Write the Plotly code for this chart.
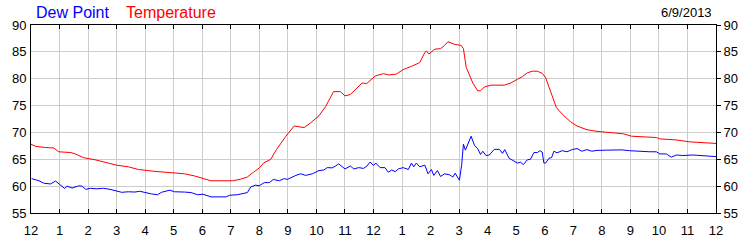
import plotly.graph_objects as go

# Hour ticks (midnight to midnight)
tick_hours = list(range(0, 25))
tick_labels = ["12", "1", "2", "3", "4", "5", "6", "7", "8", "9", "10", "11",
               "12", "1", "2", "3", "4", "5", "6", "7", "8", "9", "10", "11", "12"]

y_ticks = [55, 60, 65, 70, 75, 80, 85, 90]

date_label = "6/9/2013"
series_names = ["Dew Point", "Temperature"]

temp_hours = [0, 0.17, 0.5, 0.8, 0.97, 1.4, 1.55, 1.84, 2.25, 2.6, 3.0, 3.41, 3.76,
              4.34, 4.8, 5.38, 5.73, 6.07, 6.3, 6.7, 7.06, 7.35, 7.58, 7.8, 8.0,
              8.15, 8.4, 8.6, 8.93, 9.22, 9.4, 9.57, 9.8, 10.09, 10.32, 10.6, 10.84,
              11.0, 11.19, 11.6, 11.76, 12.06, 12.35, 12.52, 12.8, 13.04, 13.33,
              13.62, 13.8, 13.85, 13.94, 14.15, 14.35, 14.49, 14.61, 14.73, 14.84,
              15.07, 15.15, 15.25, 15.36, 15.48, 15.65, 15.75, 15.88, 16.11, 16.58,
              16.81, 17.04, 17.22, 17.39, 17.57, 17.74, 17.91, 18.03, 18.2, 18.41,
              18.67, 18.78, 18.9, 19.13, 19.48, 19.83, 20.17, 20.75, 21.04, 21.91,
              22.03, 22.61, 23.07, 23.54, 24.0]
temp_values = [67.8, 67.4, 67.2, 67.1, 66.4, 66.25, 66.0, 65.3, 64.9, 64.45, 63.9, 63.6, 63.1,
               62.75, 62.5, 62.3, 61.9, 61.3, 61.0, 61.0, 61.0, 61.3, 61.7, 62.6, 63.4,
               64.3, 65.0, 66.8, 69.3, 71.2, 71.0, 70.9, 71.8, 73.1, 74.8, 77.6, 77.6,
               76.8, 77.05, 79.2, 79.1, 80.5, 80.95, 80.7, 80.85, 81.7, 82.3,
               83.0, 84.9, 85.15, 84.6, 85.5, 85.6, 86.2, 86.9, 86.6, 86.4,
               86.2, 85.6, 82.1, 80.7, 79.2, 77.75, 77.75, 78.45, 78.8, 78.8,
               79.2, 79.9, 80.4, 81.1, 81.4, 81.4, 81.0, 80.2, 77.75, 74.6,
               73.1, 72.5, 72.0, 71.2, 70.5, 70.2, 70.0, 69.75, 69.3, 69.05,
               68.8, 68.6, 68.25, 68.1, 67.95]

dew_hours = [0.02, 0.28, 0.45, 0.68, 0.86, 1.03, 1.18, 1.26, 1.44, 1.67, 1.79, 1.92, 2.08,
             2.31, 2.54, 2.77, 3.0, 3.18, 3.41, 3.64, 3.81, 3.99, 4.22, 4.43, 4.57, 4.86,
             5.03, 5.38, 5.61, 5.84, 6.02, 6.31, 6.83, 6.95, 7.23, 7.58, 7.7, 7.87, 7.99,
             8.17, 8.35, 8.49, 8.7, 8.87, 8.98, 9.28, 9.45, 9.62, 9.86, 10.09, 10.26,
             10.38, 10.55, 10.67, 10.78, 11.0, 11.19, 11.31, 11.48, 11.65, 11.77, 11.88,
             12.0, 12.08, 12.23, 12.4, 12.52, 12.64, 12.76, 12.87, 13.04, 13.22, 13.33,
             13.41, 13.5, 13.62, 13.8, 13.91, 14.03, 14.11, 14.24, 14.35, 14.49, 14.67,
             14.78, 14.86, 15.01, 15.09, 15.15, 15.22, 15.3, 15.42, 15.54, 15.65, 15.75,
             15.83, 15.94, 16.06, 16.23, 16.41, 16.52, 16.6, 16.75, 16.93, 17.04, 17.16,
             17.25, 17.39, 17.5, 17.62, 17.74, 17.83, 17.91, 17.97, 18.03, 18.15, 18.24,
             18.32, 18.43, 18.61, 18.78, 18.96, 19.13, 19.3, 19.48, 19.65, 19.83, 20.17,
             20.41, 20.7, 20.97, 21.2, 21.39, 21.68, 21.91, 22.03, 22.26, 22.43, 22.61,
             22.84, 23.19, 23.54, 24.0]
dew_values = [61.4, 61.0, 60.55, 60.4, 60.95, 60.25, 59.55, 60.0, 59.65, 60.05, 60.0, 59.4, 59.6,
              59.5, 59.6, 59.4, 59.1, 58.85, 58.95, 58.9, 59.05, 58.8, 58.55, 58.4, 58.85, 59.25,
              58.95, 58.9, 58.8, 58.4, 58.5, 58.0, 58.0, 58.3, 58.4, 58.8, 59.85, 60.2, 60.05,
              60.65, 60.65, 61.25, 61.0, 61.4, 61.25, 62.0, 62.3, 62.0, 62.3, 62.9, 63.0,
              63.45, 63.4, 63.75, 64.15, 63.2, 63.75, 63.2, 63.45, 63.3, 63.75, 64.5,
              63.85, 64.3, 63.45, 63.45, 62.6, 63.0, 62.7, 63.2, 63.45, 63.1, 64.3,
              63.6, 64.3, 63.6, 63.9, 62.3, 63.1, 62.0, 62.9, 61.8, 62.3, 62.1,
              61.7, 62.4, 61.1, 64.0, 67.8, 66.7, 67.8, 69.3, 67.55, 67.0, 65.9,
              66.5, 65.7, 65.8, 66.85, 66.85, 66.1, 66.8, 65.2, 64.6, 64.3, 64.45,
              64.0, 64.9, 65.0, 66.25, 66.25, 66.6, 66.35, 64.3, 64.3, 65.2, 65.3,
              66.5, 66.2, 66.6, 66.4, 66.8, 67.0, 66.5, 66.8, 66.5, 66.65, 66.7,
              66.75, 66.75, 66.6, 66.5, 66.4, 66.4, 66.4, 66.0, 66.0, 65.4, 65.8,
              65.7, 65.8, 65.7, 65.5]

BLUE = "#0000ff"
RED = "#ff0000"
FONT = "Liberation Sans, Arial, sans-serif"

fig = go.Figure()
fig.add_trace(go.Scatter(x=temp_hours, y=temp_values, mode="lines", name=series_names[1],
                         line=dict(color=RED, width=1)))
fig.add_trace(go.Scatter(x=dew_hours, y=dew_values, mode="lines", name=series_names[0],
                         line=dict(color=BLUE, width=1)))
# invisible trace to activate the right axis
fig.add_trace(go.Scatter(x=[0], y=[55], yaxis="y2", mode="lines", showlegend=False,
                         hoverinfo="skip", line=dict(width=0)))

fig.update_layout(
    width=750, height=250,
    margin=dict(l=30, r=30, t=25, b=25),
    paper_bgcolor="white", plot_bgcolor="white",
    showlegend=False,
    font=dict(family=FONT, size=13, color="#000000"),
    xaxis=dict(range=[0, 24], tickvals=tick_hours, ticktext=tick_labels,
               showgrid=True, gridcolor="#cccccc", gridwidth=1,
               showline=True, linecolor="#000000", linewidth=1, mirror="ticks",
               ticks="inside", ticklen=4, tickcolor="#000000", zeroline=False,
               ticklabelstandoff=5, tickfont=dict(size=13)),
    yaxis=dict(range=[55, 90], tickvals=y_ticks, showgrid=True, gridcolor="#cccccc",
               gridwidth=1, showline=True, linecolor="#000000", linewidth=1,
               ticks="", zeroline=False, ticklabelstandoff=1, tickfont=dict(size=13)),
    yaxis2=dict(range=[55, 90], tickvals=y_ticks, overlaying="y", side="right",
                showgrid=False, showline=True, linecolor="#000000", linewidth=1,
                ticks="outside", ticklen=4, tickcolor="#000000", zeroline=False,
                tickfont=dict(size=13)),
    annotations=[
        dict(text=series_names[0], xref="paper", yref="paper", x=3 / 690, y=1.065,
             xanchor="left", yanchor="middle", showarrow=False,
             font=dict(size=16, color=BLUE, family=FONT)),
        dict(text=series_names[1], xref="paper", yref="paper", x=94 / 690, y=1.065,
             xanchor="left", yanchor="middle", showarrow=False,
             font=dict(size=16, color=RED, family=FONT)),
        dict(text=date_label, xref="paper", yref="paper", x=688 / 690, y=1.065,
             xanchor="right", yanchor="middle", showarrow=False,
             font=dict(size=13, color="#000000", family=FONT)),
    ],
)

fig.write_html("out.html")
